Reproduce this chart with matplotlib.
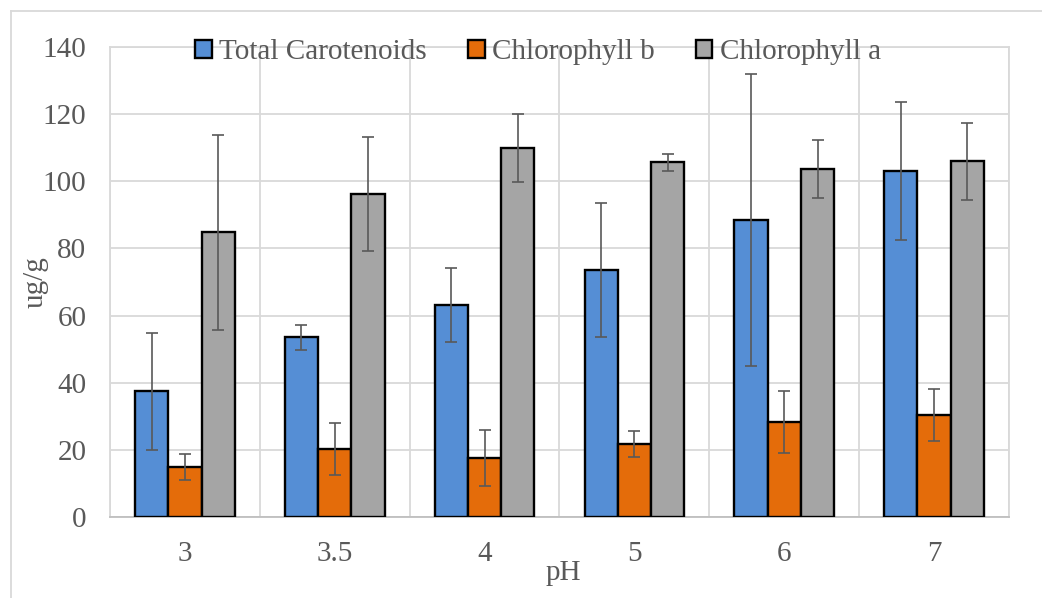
import numpy as np
import matplotlib
matplotlib.use("Agg")
import matplotlib.pyplot as plt
from matplotlib.patches import Patch
from matplotlib.lines import Line2D

# pH levels and pigment content (ug/g) with standard deviations
ph_labels = ["3", "3.5", "4", "5", "6", "7"]
carotenoids = [37.4, 53.5, 63.2, 73.6, 88.6, 103.0]
carotenoids_err = [17.4, 3.8, 11.0, 20.0, 43.5, 20.5]
chl_b = [14.8, 20.3, 17.6, 21.8, 28.3, 30.3]
chl_b_err = [3.9, 7.7, 8.4, 3.9, 9.1, 7.8]
chl_a = [84.8, 96.2, 109.8, 105.6, 103.7, 105.9]
chl_a_err = [29.0, 16.9, 10.1, 2.4, 8.6, 11.5]

series_names = ["Total Carotenoids", "Chlorophyll b", "Chlorophyll a"]
colors = ["#558ED5", "#E46C0A", "#A5A5A5"]
text_color = "#595959"
grid_color = "#D9D9D9"
fs = 21

plt.rcParams["font.family"] = ["Liberation Serif", "DejaVu Serif"]

W, H = 1042, 598
fig = plt.figure(figsize=(W / 100, H / 100), dpi=100)
ax = fig.add_axes([110 / W, (H - 517) / H, 899 / W, 470 / H])

x = np.arange(len(ph_labels))
bw = 0.222
data = [(carotenoids, carotenoids_err), (chl_b, chl_b_err), (chl_a, chl_a_err)]
for i, (vals, errs) in enumerate(data):
    pos = x + (i - 1) * bw
    ax.bar(pos, vals, width=bw, color=colors[i], edgecolor="black",
           linewidth=1.7, zorder=3)
    ax.errorbar(pos, vals, yerr=errs, fmt="none", ecolor=text_color,
                elinewidth=1.2, capsize=4.3, capthick=1.2, zorder=4)

ax.set_xlim(-0.5, len(ph_labels) - 0.5)
ax.set_ylim(0, 140)
ax.set_yticks(np.arange(0, 141, 20))
ax.set_xticks(x)
ax.set_xticklabels(ph_labels)
ax.set_xticks(np.arange(-0.5, len(ph_labels)), minor=True)

ax.grid(axis="y", which="major", color=grid_color, linewidth=1.3, zorder=0)
ax.grid(axis="x", which="minor", color=grid_color, linewidth=1.3, zorder=0)
ax.grid(axis="x", which="major", visible=False)
ax.set_axisbelow(True)

ax.tick_params(axis="both", which="both", length=0, labelsize=fs,
               labelcolor=text_color)
ax.tick_params(axis="y", pad=17)
ax.tick_params(axis="x", pad=17)

for side in ["left", "top", "right"]:
    ax.spines[side].set_color(grid_color)
    ax.spines[side].set_linewidth(1.3)
ax.spines["bottom"].set_color("#BFBFBF")
ax.spines["bottom"].set_linewidth(1.3)

# Axis titles
fig.text(36 / W, 1 - 282 / H, "ug/g", rotation=90, ha="center", va="center",
         fontsize=fs, color=text_color)
fig.text(563 / W, 1 - 573 / H, "pH", ha="center", va="center",
         fontsize=fs, color=text_color)

# Legend across the top of the plot
handles = [Patch(facecolor=c, edgecolor="black", linewidth=1.7) for c in colors]
leg = fig.legend(handles, series_names, loc="center",
                 bbox_to_anchor=(538 / W, 1 - 52 / H), ncol=3, frameon=False,
                 fontsize=fs, handlelength=0.58, handleheight=0.58,
                 handletextpad=0.25, columnspacing=1.4, borderaxespad=0)
for t in leg.get_texts():
    t.set_color(text_color)

# Chart area frame
fig.add_artist(Line2D([11 / W, 1.0], [1 - 11 / H, 1 - 11 / H],
                      transform=fig.transFigure, color=grid_color, linewidth=1.3))
fig.add_artist(Line2D([11 / W, 11 / W], [0.0, 1 - 11 / H],
                      transform=fig.transFigure, color=grid_color, linewidth=1.3))

fig.savefig("out.png", dpi=100, facecolor="white")
